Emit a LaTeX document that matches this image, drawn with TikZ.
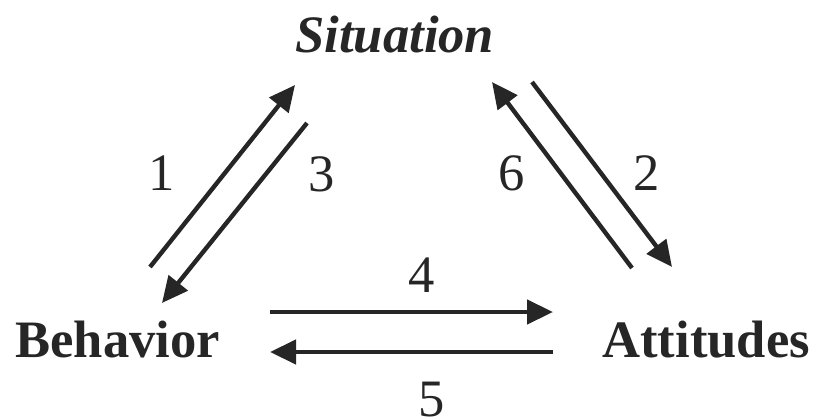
\documentclass[tikz,border=0pt]{standalone}
\usepackage{fontspec}
\setmainfont{Liberation Serif}
\usetikzlibrary{arrows.meta}

\begin{document}
\begin{tikzpicture}[x=0.5pt,y=-0.5pt,line cap=butt,
  every node/.style={inner sep=0pt,text=black!85,font=\fontsize{26.3pt}{30pt}\selectfont},
  link/.style={line width=2.2pt,draw=black!85,-{Triangle[length=13pt,width=12pt]}}]
  \useasboundingbox (0,0) rectangle (817,417);

  % ends of the arrows
  \coordinate (b1) at (150,267);
  \coordinate (s1) at (295,85);
  \coordinate (s3) at (307,123);
  \coordinate (b3) at (162,303);
  \coordinate (a6) at (632,268);
  \coordinate (s6) at (492,82);
  \coordinate (s2) at (532,82);
  \coordinate (a2) at (672,267);
  \coordinate (b4) at (270,312);
  \coordinate (a4) at (553,312);
  \coordinate (a5) at (553,352);
  \coordinate (b5) at (270,352);

  \draw[link] (b1) -- (s1);
  \draw[link] (s3) -- (b3);
  \draw[link] (a6) -- (s6);
  \draw[link] (s2) -- (a2);
  \draw[link] (b4) -- (a4);
  \draw[link] (a5) -- (b5);

  \node[anchor=base west] (sit) at (295,53) {\textbf{\textit{Situation}}};
  \node[anchor=base west] (beh) at (15,357) {\textbf{Behavior}};
  \node[anchor=base west] (att) at (602,357) {\textbf{Attitudes}};

  \node[anchor=base] (n1) at (162,190) {1};
  \node[anchor=base] (n3) at (322,191) {3};
  \node[anchor=base] (n6) at (512,190) {6};
  \node[anchor=base] (n2) at (647,190) {2};
  \node[anchor=base] (n4) at (422,292) {4};
  \node[anchor=base] (n5) at (432,416) {5};
\end{tikzpicture}
\end{document}
